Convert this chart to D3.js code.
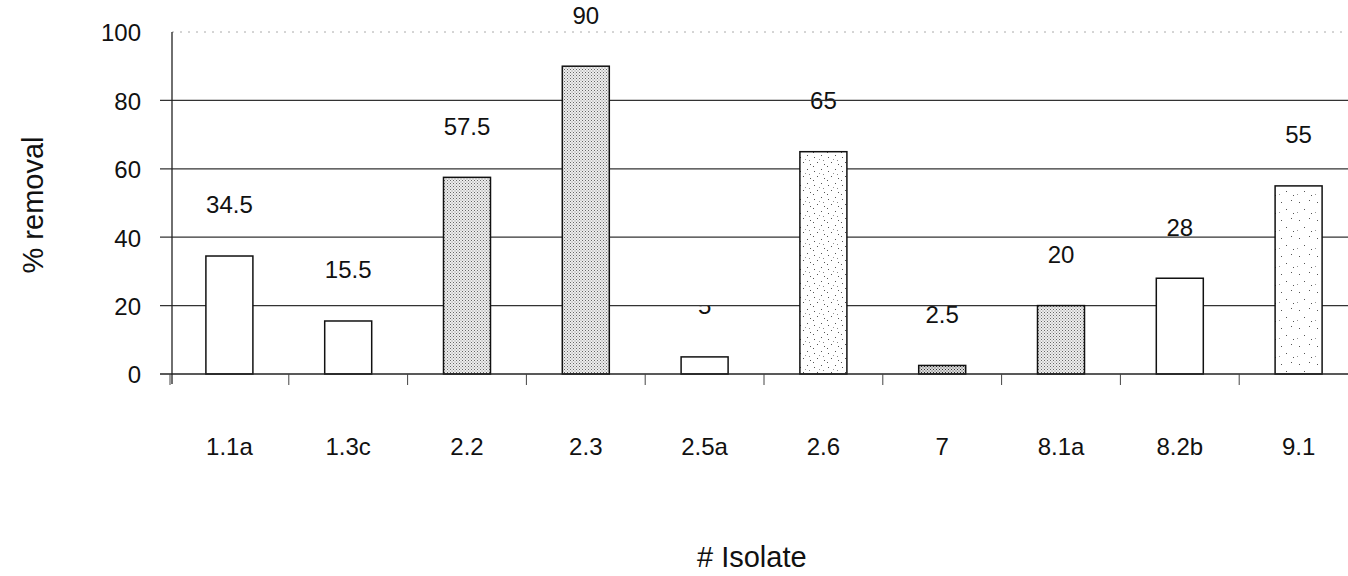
<!DOCTYPE html>
<html><head><meta charset="utf-8">
<script src="https://cdn.jsdelivr.net/npm/d3@7"></script>
<style>body{margin:0;background:#fff}svg{display:block;font-family:"Liberation Sans",Arial,sans-serif}</style>
</head><body><svg id="c" width="1348" height="576"></svg>
<script>
const categories = ["1.1a","1.3c","2.2","2.3","2.5a","2.6","7","8.1a","8.2b","9.1"];
const values = [34.5,15.5,57.5,90,5,65,2.5,20,28,55];
const valueLabels = ["34.5","15.5","57.5","90","5","65","2.5","20","28","55"];
const yTicks = [0,20,40,60,80,100];

// fill style per bar (kept apart from the data)
const fillStyle = {"1.1a":"white","1.3c":"white","2.2":"dots","2.3":"dots","2.5a":"white","2.6":"sparse","7":"dense","8.1a":"dots","8.2b":"white","9.1":"sparse2"};

const svg = d3.select("#c");
const defs = svg.append("defs");
function pat(id, size, dots, bg){
  const p = defs.append("pattern").attr("id",id).attr("patternUnits","userSpaceOnUse").attr("width",size).attr("height",size);
  p.append("rect").attr("width",size).attr("height",size).attr("fill",bg||"#fff");
  dots.forEach(d=>p.append("rect").attr("x",d[0]).attr("y",d[1]).attr("width",1).attr("height",1).attr("fill",d[2]||"#555"));
}
pat("dots",3,[[0,0,"#666"],[1.5,1.5,"#888"]],"#eee");
pat("dense",3,[[0,0,"#333"],[1.5,1.5,"#444"]],"#ddd");
pat("sparse",14,[[2,3],[9,1],[5,8],[12,10],[1,12],[7,5,"#999"],[11,6,"#888"]],"#fff");
pat("sparse2",18,[[3,4],[13,2],[8,11],[15,15],[1,14,"#999"]],"#fff");

const y = d3.scaleLinear().domain([0,100]).range([374,32]);
const band = d3.scaleBand().domain(categories).range([170,1358]);
const cx = d => band(d)+band.bandwidth()/2;

// value labels
svg.append("g").selectAll("text").data(categories).join("text")
  .attr("x",cx)
  .attr("y",(d,i)=>y(values[i])-51)
  .attr("dy","0.35em").attr("text-anchor","middle")
  .attr("font-size",24).attr("fill","#111")
  .text((d,i)=>valueLabels[i]);

// the "5" label is mostly hidden above the 20-line in the original
svg.append("rect").attr("x",cx("2.5a")-20).attr("y",y(20)-22).attr("width",40).attr("height",21.5).attr("fill","#fff");

// gridlines
const g = svg.append("g");
yTicks.filter(t=>t>0 && t<100).forEach(t=>{
  g.append("line").attr("x1",160).attr("x2",1348).attr("y1",y(t)).attr("y2",y(t)).attr("stroke","#333").attr("stroke-width",1.3);
});
g.append("line").attr("x1",172).attr("x2",1348).attr("y1",y(100)).attr("y2",y(100)).attr("stroke","#aaa").attr("stroke-width",1).attr("stroke-dasharray","2,6");

// bars
svg.append("g").selectAll("rect").data(categories).join("rect")
  .attr("x",d=>cx(d)-23.5)
  .attr("width",47)
  .attr("y",(d,i)=>y(values[i]))
  .attr("height",(d,i)=>y(0)-y(values[i]))
  .attr("fill",d=>fillStyle[d]==="white"?"#fff":`url(#${fillStyle[d]})`)
  .attr("stroke","#111").attr("stroke-width",1.5);

// axes
svg.append("line").attr("x1",172).attr("x2",172).attr("y1",y(100)).attr("y2",y(0)+10).attr("stroke","#222").attr("stroke-width",1.3);
svg.append("line").attr("x1",160).attr("x2",1348).attr("y1",y(0)).attr("y2",y(0)).attr("stroke","#222").attr("stroke-width",1.5);
const ticksX = categories.map(c=>band(c)).concat([band(categories[9])+band.bandwidth()]);
svg.append("g").selectAll("line").data(ticksX).join("line")
  .attr("x1",d=>d).attr("x2",d=>d).attr("y1",y(0)).attr("y2",y(0)+11).attr("stroke","#444").attr("stroke-width",1);

// y tick labels
svg.append("g").selectAll("text").data(yTicks).join("text")
  .attr("x",141).attr("y",d=>y(d)+1).attr("dy","0.35em").attr("text-anchor","end")
  .attr("font-size",24).attr("fill","#111").text(d=>d);

// x category labels
svg.append("g").selectAll("text").data(categories).join("text")
  .attr("x",cx).attr("y",447).attr("dy","0.35em")
  .attr("text-anchor","middle").attr("font-size",24).attr("fill","#111").text(d=>d);

// axis titles
svg.append("text").attr("transform","translate(33,205) rotate(-90)").attr("text-anchor","middle").attr("dy","0.35em")
  .attr("font-size",29).attr("fill","#111").text("% removal");
svg.append("text").attr("x",697).attr("y",557).attr("text-anchor","start").attr("dy","0.35em")
  .attr("font-size",29).attr("fill","#111").text("# Isolate");
</script></body></html>
